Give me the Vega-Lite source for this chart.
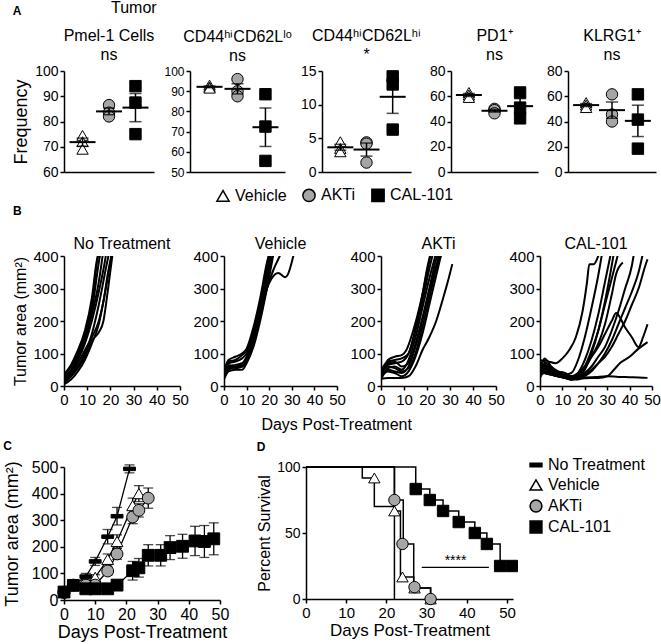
{
"$schema": "https://vega.github.io/schema/vega-lite/v6.json",
"padding": {"left": 3, "top": 0, "right": 0, "bottom": 2},
"spacing": 7,
"config": {
  "font": "Liberation Sans",
  "view": {"stroke": null},
  "axis": {"grid": false, "domainColor": "black", "tickColor": "black", "labelColor": "black", "titleColor": "black", "domainWidth": 1.5, "tickWidth": 1.5, "tickSize": 4, "labelFontSize": 14, "titleFontSize": 17, "titleFontWeight": "normal", "labelPadding": 2, "titlePadding": 4, "labelOverlap": false, "labelFlush": false},
  "title": {"fontSize": 16, "fontWeight": "normal", "color": "black", "subtitleFontSize": 16, "subtitleColor": "black", "subtitlePadding": 0, "offset": 1},
  "legend": {"labelColor": "black", "labelFontSize": 16, "symbolSize": 150, "symbolStrokeWidth": 1.5, "layout": {"bottom": {"anchor": "middle"}}}
},
"resolve": {"scale": {"shape": "independent", "fill": "independent", "stroke": "independent"}, "legend": {"shape": "independent", "fill": "independent", "stroke": "independent"}},
"datasets": {
  "freq": [
    {"p": "p1", "g": "Vehicle", "v": 74.5}, {"p": "p1", "g": "Vehicle", "v": 72}, {"p": "p1", "g": "Vehicle", "v": 69},
    {"p": "p1", "g": "AKTi", "v": 86.5}, {"p": "p1", "g": "AKTi", "v": 83.5}, {"p": "p1", "g": "AKTi", "v": 82},
    {"p": "p1", "g": "CAL-101", "v": 94}, {"p": "p1", "g": "CAL-101", "v": 87.5}, {"p": "p1", "g": "CAL-101", "v": 75},
    {"p": "p2", "g": "Vehicle", "v": 93}, {"p": "p2", "g": "Vehicle", "v": 92}, {"p": "p2", "g": "Vehicle", "v": 91.5},
    {"p": "p2", "g": "AKTi", "v": 96}, {"p": "p2", "g": "AKTi", "v": 90}, {"p": "p2", "g": "AKTi", "v": 87.5},
    {"p": "p2", "g": "CAL-101", "v": 88.5}, {"p": "p2", "g": "CAL-101", "v": 72.5}, {"p": "p2", "g": "CAL-101", "v": 55.5},
    {"p": "p3", "g": "Vehicle", "v": 4.5}, {"p": "p3", "g": "Vehicle", "v": 3.5}, {"p": "p3", "g": "Vehicle", "v": 3.0},
    {"p": "p3", "g": "AKTi", "v": 4.4}, {"p": "p3", "g": "AKTi", "v": 4.2}, {"p": "p3", "g": "AKTi", "v": 1.4},
    {"p": "p3", "g": "CAL-101", "v": 14.2}, {"p": "p3", "g": "CAL-101", "v": 13.0}, {"p": "p3", "g": "CAL-101", "v": 6.3},
    {"p": "p4", "g": "Vehicle", "v": 63}, {"p": "p4", "g": "Vehicle", "v": 61}, {"p": "p4", "g": "Vehicle", "v": 59},
    {"p": "p4", "g": "AKTi", "v": 50}, {"p": "p4", "g": "AKTi", "v": 49}, {"p": "p4", "g": "AKTi", "v": 46.5},
    {"p": "p4", "g": "CAL-101", "v": 63}, {"p": "p4", "g": "CAL-101", "v": 51}, {"p": "p4", "g": "CAL-101", "v": 42.5},
    {"p": "p5", "g": "Vehicle", "v": 55}, {"p": "p5", "g": "Vehicle", "v": 53}, {"p": "p5", "g": "Vehicle", "v": 51},
    {"p": "p5", "g": "AKTi", "v": 61.5}, {"p": "p5", "g": "AKTi", "v": 45.5}, {"p": "p5", "g": "AKTi", "v": 40},
    {"p": "p5", "g": "CAL-101", "v": 61.5}, {"p": "p5", "g": "CAL-101", "v": 41.5}, {"p": "p5", "g": "CAL-101", "v": 18.5}
  ],
  "growth": [
    {"g":"NT","m":1,"d":0,"v":20},{"g":"NT","m":1,"d":3,"v":45},{"g":"NT","m":1,"d":6,"v":85},{"g":"NT","m":1,"d":9,"v":140},{"g":"NT","m":1,"d":12,"v":230},{"g":"NT","m":1,"d":15,"v":380},{"g":"NT","m":1,"d":17,"v":460},
    {"g":"NT","m":2,"d":0,"v":30},{"g":"NT","m":2,"d":3,"v":60},{"g":"NT","m":2,"d":6,"v":100},{"g":"NT","m":2,"d":9,"v":160},{"g":"NT","m":2,"d":12,"v":250},{"g":"NT","m":2,"d":14,"v":370},{"g":"NT","m":2,"d":16,"v":450},
    {"g":"NT","m":3,"d":0,"v":10},{"g":"NT","m":3,"d":3,"v":30},{"g":"NT","m":3,"d":6,"v":60},{"g":"NT","m":3,"d":9,"v":100},{"g":"NT","m":3,"d":12,"v":160},{"g":"NT","m":3,"d":15,"v":250},{"g":"NT","m":3,"d":18,"v":360},{"g":"NT","m":3,"d":20,"v":430},
    {"g":"NT","m":4,"d":0,"v":15},{"g":"NT","m":4,"d":3,"v":35},{"g":"NT","m":4,"d":6,"v":70},{"g":"NT","m":4,"d":9,"v":110},{"g":"NT","m":4,"d":12,"v":150},{"g":"NT","m":4,"d":15,"v":200},{"g":"NT","m":4,"d":17,"v":260},{"g":"NT","m":4,"d":19,"v":350},{"g":"NT","m":4,"d":21,"v":420},
    {"g":"NT","m":5,"d":0,"v":25},{"g":"NT","m":5,"d":3,"v":50},{"g":"NT","m":5,"d":6,"v":90},{"g":"NT","m":5,"d":9,"v":150},{"g":"NT","m":5,"d":12,"v":220},{"g":"NT","m":5,"d":15,"v":320},{"g":"NT","m":5,"d":17,"v":420},
    {"g":"NT","m":6,"d":0,"v":5},{"g":"NT","m":6,"d":3,"v":20},{"g":"NT","m":6,"d":6,"v":45},{"g":"NT","m":6,"d":9,"v":80},{"g":"NT","m":6,"d":12,"v":130},{"g":"NT","m":6,"d":15,"v":190},{"g":"NT","m":6,"d":18,"v":300},{"g":"NT","m":6,"d":21,"v":420},
    {"g":"NT","m":7,"d":0,"v":35},{"g":"NT","m":7,"d":3,"v":65},{"g":"NT","m":7,"d":6,"v":110},{"g":"NT","m":7,"d":9,"v":170},{"g":"NT","m":7,"d":12,"v":270},{"g":"NT","m":7,"d":14,"v":380},{"g":"NT","m":7,"d":16,"v":440},
    {"g":"NT","m":8,"d":0,"v":12},{"g":"NT","m":8,"d":3,"v":30},{"g":"NT","m":8,"d":6,"v":55},{"g":"NT","m":8,"d":9,"v":90},{"g":"NT","m":8,"d":12,"v":140},{"g":"NT","m":8,"d":15,"v":165},{"g":"NT","m":8,"d":17,"v":200},{"g":"NT","m":8,"d":19,"v":300},{"g":"NT","m":8,"d":21,"v":410},
    {"g":"NT","m":9,"d":0,"v":18},{"g":"NT","m":9,"d":3,"v":42},{"g":"NT","m":9,"d":6,"v":80},{"g":"NT","m":9,"d":9,"v":130},{"g":"NT","m":9,"d":12,"v":200},{"g":"NT","m":9,"d":15,"v":290},{"g":"NT","m":9,"d":18,"v":400},{"g":"NT","m":9,"d":19,"v":450},
    {"g":"V","m":1,"d":0,"v":25},{"g":"V","m":1,"d":2,"v":60},{"g":"V","m":1,"d":5,"v":65},{"g":"V","m":1,"d":8,"v":70},{"g":"V","m":1,"d":10,"v":90},{"g":"V","m":1,"d":13,"v":150},{"g":"V","m":1,"d":16,"v":230},{"g":"V","m":1,"d":19,"v":330},{"g":"V","m":1,"d":21,"v":420},
    {"g":"V","m":2,"d":0,"v":40},{"g":"V","m":2,"d":2,"v":75},{"g":"V","m":2,"d":5,"v":80},{"g":"V","m":2,"d":8,"v":95},{"g":"V","m":2,"d":10,"v":110},{"g":"V","m":2,"d":13,"v":170},{"g":"V","m":2,"d":16,"v":260},{"g":"V","m":2,"d":19,"v":370},{"g":"V","m":2,"d":21,"v":440},
    {"g":"V","m":3,"d":0,"v":20},{"g":"V","m":3,"d":2,"v":45},{"g":"V","m":3,"d":5,"v":50},{"g":"V","m":3,"d":8,"v":50},{"g":"V","m":3,"d":10,"v":70},{"g":"V","m":3,"d":13,"v":120},{"g":"V","m":3,"d":16,"v":200},{"g":"V","m":3,"d":19,"v":300},{"g":"V","m":3,"d":22,"v":410},
    {"g":"V","m":4,"d":0,"v":50},{"g":"V","m":4,"d":2,"v":70},{"g":"V","m":4,"d":5,"v":75},{"g":"V","m":4,"d":8,"v":85},{"g":"V","m":4,"d":10,"v":100},{"g":"V","m":4,"d":13,"v":160},{"g":"V","m":4,"d":16,"v":240},{"g":"V","m":4,"d":19,"v":350},{"g":"V","m":4,"d":21,"v":420},
    {"g":"V","m":5,"d":0,"v":30},{"g":"V","m":5,"d":2,"v":55},{"g":"V","m":5,"d":5,"v":60},{"g":"V","m":5,"d":8,"v":65},{"g":"V","m":5,"d":10,"v":85},{"g":"V","m":5,"d":13,"v":140},{"g":"V","m":5,"d":16,"v":220},{"g":"V","m":5,"d":19,"v":320},{"g":"V","m":5,"d":22,"v":420},
    {"g":"V","m":6,"d":0,"v":35},{"g":"V","m":6,"d":2,"v":65},{"g":"V","m":6,"d":5,"v":55},{"g":"V","m":6,"d":8,"v":60},{"g":"V","m":6,"d":10,"v":75},{"g":"V","m":6,"d":13,"v":130},{"g":"V","m":6,"d":16,"v":210},{"g":"V","m":6,"d":19,"v":300},{"g":"V","m":6,"d":21,"v":330},{"g":"V","m":6,"d":24,"v":348},{"g":"V","m":6,"d":27,"v":335},{"g":"V","m":6,"d":28,"v":340},{"g":"V","m":6,"d":31,"v":410},
    {"g":"V","m":7,"d":0,"v":45},{"g":"V","m":7,"d":2,"v":80},{"g":"V","m":7,"d":5,"v":90},{"g":"V","m":7,"d":8,"v":100},{"g":"V","m":7,"d":10,"v":115},{"g":"V","m":7,"d":13,"v":180},{"g":"V","m":7,"d":16,"v":270},{"g":"V","m":7,"d":19,"v":380},{"g":"V","m":7,"d":21,"v":430},
    {"g":"V","m":8,"d":0,"v":28},{"g":"V","m":8,"d":2,"v":50},{"g":"V","m":8,"d":5,"v":58},{"g":"V","m":8,"d":8,"v":60},{"g":"V","m":8,"d":10,"v":80},{"g":"V","m":8,"d":13,"v":135},{"g":"V","m":8,"d":16,"v":215},{"g":"V","m":8,"d":19,"v":300},{"g":"V","m":8,"d":22,"v":360},{"g":"V","m":8,"d":24,"v":390},{"g":"V","m":8,"d":26,"v":420},
    {"g":"A","m":1,"d":0,"v":30},{"g":"A","m":1,"d":3,"v":80},{"g":"A","m":1,"d":6,"v":90},{"g":"A","m":1,"d":9,"v":95},{"g":"A","m":1,"d":11,"v":110},{"g":"A","m":1,"d":14,"v":170},{"g":"A","m":1,"d":17,"v":250},{"g":"A","m":1,"d":20,"v":350},{"g":"A","m":1,"d":22,"v":420},
    {"g":"A","m":2,"d":0,"v":40},{"g":"A","m":2,"d":3,"v":65},{"g":"A","m":2,"d":6,"v":70},{"g":"A","m":2,"d":9,"v":75},{"g":"A","m":2,"d":12,"v":100},{"g":"A","m":2,"d":15,"v":170},{"g":"A","m":2,"d":18,"v":260},{"g":"A","m":2,"d":21,"v":360},{"g":"A","m":2,"d":23,"v":420},
    {"g":"A","m":3,"d":0,"v":25},{"g":"A","m":3,"d":3,"v":55},{"g":"A","m":3,"d":6,"v":60},{"g":"A","m":3,"d":9,"v":50},{"g":"A","m":3,"d":12,"v":80},{"g":"A","m":3,"d":15,"v":150},{"g":"A","m":3,"d":18,"v":240},{"g":"A","m":3,"d":21,"v":330},{"g":"A","m":3,"d":24,"v":410},
    {"g":"A","m":4,"d":0,"v":45},{"g":"A","m":4,"d":3,"v":70},{"g":"A","m":4,"d":6,"v":75},{"g":"A","m":4,"d":9,"v":60},{"g":"A","m":4,"d":12,"v":70},{"g":"A","m":4,"d":15,"v":130},{"g":"A","m":4,"d":18,"v":210},{"g":"A","m":4,"d":21,"v":300},{"g":"A","m":4,"d":24,"v":390},{"g":"A","m":4,"d":26,"v":420},
    {"g":"A","m":5,"d":0,"v":20},{"g":"A","m":5,"d":3,"v":50},{"g":"A","m":5,"d":6,"v":45},{"g":"A","m":5,"d":9,"v":40},{"g":"A","m":5,"d":12,"v":60},{"g":"A","m":5,"d":15,"v":120},{"g":"A","m":5,"d":18,"v":200},{"g":"A","m":5,"d":21,"v":290},{"g":"A","m":5,"d":24,"v":370},{"g":"A","m":5,"d":26,"v":420},
    {"g":"A","m":6,"d":0,"v":35},{"g":"A","m":6,"d":3,"v":60},{"g":"A","m":6,"d":6,"v":55},{"g":"A","m":6,"d":9,"v":45},{"g":"A","m":6,"d":12,"v":55},{"g":"A","m":6,"d":15,"v":100},{"g":"A","m":6,"d":18,"v":180},{"g":"A","m":6,"d":21,"v":270},{"g":"A","m":6,"d":24,"v":360},{"g":"A","m":6,"d":27,"v":420},
    {"g":"A","m":7,"d":0,"v":22},{"g":"A","m":7,"d":3,"v":25},{"g":"A","m":7,"d":6,"v":25},{"g":"A","m":7,"d":9,"v":25},{"g":"A","m":7,"d":12,"v":30},{"g":"A","m":7,"d":15,"v":60},{"g":"A","m":7,"d":18,"v":110},{"g":"A","m":7,"d":21,"v":150},{"g":"A","m":7,"d":24,"v":200},{"g":"A","m":7,"d":27,"v":270},{"g":"A","m":7,"d":29,"v":320},{"g":"A","m":7,"d":31,"v":375},
    {"g":"A","m":8,"d":0,"v":30},{"g":"A","m":8,"d":3,"v":45},{"g":"A","m":8,"d":6,"v":40},{"g":"A","m":8,"d":9,"v":30},{"g":"A","m":8,"d":12,"v":45},{"g":"A","m":8,"d":15,"v":90},{"g":"A","m":8,"d":18,"v":160},{"g":"A","m":8,"d":21,"v":250},{"g":"A","m":8,"d":24,"v":340},{"g":"A","m":8,"d":26,"v":400},{"g":"A","m":8,"d":27,"v":430},
    {"g":"A","m":9,"d":0,"v":50},{"g":"A","m":9,"d":3,"v":75},{"g":"A","m":9,"d":6,"v":80},{"g":"A","m":9,"d":9,"v":85},{"g":"A","m":9,"d":12,"v":100},{"g":"A","m":9,"d":15,"v":180},{"g":"A","m":9,"d":18,"v":280},{"g":"A","m":9,"d":20,"v":360},{"g":"A","m":9,"d":22,"v":420},
    {"g":"C","m":1,"d":0,"v":60},{"g":"C","m":1,"d":2,"v":80},{"g":"C","m":1,"d":4,"v":75},{"g":"C","m":1,"d":7,"v":70},{"g":"C","m":1,"d":10,"v":85},{"g":"C","m":1,"d":13,"v":110},{"g":"C","m":1,"d":16,"v":150},{"g":"C","m":1,"d":19,"v":230},{"g":"C","m":1,"d":21,"v":320},{"g":"C","m":1,"d":22,"v":375},{"g":"C","m":1,"d":24,"v":375},{"g":"C","m":1,"d":26,"v":400},{"g":"C","m":1,"d":27,"v":420},
    {"g":"C","m":2,"d":0,"v":40},{"g":"C","m":2,"d":2,"v":70},{"g":"C","m":2,"d":5,"v":50},{"g":"C","m":2,"d":8,"v":40},{"g":"C","m":2,"d":11,"v":35},{"g":"C","m":2,"d":14,"v":40},{"g":"C","m":2,"d":17,"v":80},{"g":"C","m":2,"d":20,"v":150},{"g":"C","m":2,"d":23,"v":240},{"g":"C","m":2,"d":26,"v":340},{"g":"C","m":2,"d":28,"v":420},
    {"g":"C","m":3,"d":0,"v":50},{"g":"C","m":3,"d":2,"v":60},{"g":"C","m":3,"d":5,"v":45},{"g":"C","m":3,"d":8,"v":35},{"g":"C","m":3,"d":11,"v":30},{"g":"C","m":3,"d":14,"v":25},{"g":"C","m":3,"d":17,"v":40},{"g":"C","m":3,"d":20,"v":80},{"g":"C","m":3,"d":23,"v":140},{"g":"C","m":3,"d":26,"v":220},{"g":"C","m":3,"d":29,"v":320},{"g":"C","m":3,"d":32,"v":420},
    {"g":"C","m":4,"d":0,"v":35},{"g":"C","m":4,"d":2,"v":55},{"g":"C","m":4,"d":5,"v":40},{"g":"C","m":4,"d":8,"v":30},{"g":"C","m":4,"d":11,"v":25},{"g":"C","m":4,"d":14,"v":20},{"g":"C","m":4,"d":17,"v":30},{"g":"C","m":4,"d":20,"v":60},{"g":"C","m":4,"d":23,"v":110},{"g":"C","m":4,"d":26,"v":170},{"g":"C","m":4,"d":29,"v":250},{"g":"C","m":4,"d":32,"v":330},{"g":"C","m":4,"d":35,"v":410},
    {"g":"C","m":5,"d":0,"v":45},{"g":"C","m":5,"d":2,"v":85},{"g":"C","m":5,"d":5,"v":60},{"g":"C","m":5,"d":8,"v":45},{"g":"C","m":5,"d":11,"v":40},{"g":"C","m":5,"d":14,"v":30},{"g":"C","m":5,"d":17,"v":35},{"g":"C","m":5,"d":20,"v":55},{"g":"C","m":5,"d":23,"v":90},{"g":"C","m":5,"d":26,"v":130},{"g":"C","m":5,"d":29,"v":190},{"g":"C","m":5,"d":32,"v":280},{"g":"C","m":5,"d":34,"v":345},{"g":"C","m":5,"d":37,"v":380},
    {"g":"C","m":6,"d":0,"v":55},{"g":"C","m":6,"d":2,"v":65},{"g":"C","m":6,"d":5,"v":50},{"g":"C","m":6,"d":8,"v":40},{"g":"C","m":6,"d":11,"v":35},{"g":"C","m":6,"d":14,"v":30},{"g":"C","m":6,"d":17,"v":40},{"g":"C","m":6,"d":20,"v":60},{"g":"C","m":6,"d":23,"v":90},{"g":"C","m":6,"d":26,"v":120},{"g":"C","m":6,"d":29,"v":160},{"g":"C","m":6,"d":32,"v":200},{"g":"C","m":6,"d":34,"v":225},{"g":"C","m":6,"d":38,"v":180},{"g":"C","m":6,"d":41,"v":150},{"g":"C","m":6,"d":44,"v":120},{"g":"C","m":6,"d":46,"v":150},{"g":"C","m":6,"d":48,"v":190},
    {"g":"C","m":7,"d":0,"v":30},{"g":"C","m":7,"d":2,"v":50},{"g":"C","m":7,"d":5,"v":40},{"g":"C","m":7,"d":8,"v":35},{"g":"C","m":7,"d":11,"v":30},{"g":"C","m":7,"d":14,"v":20},{"g":"C","m":7,"d":17,"v":25},{"g":"C","m":7,"d":20,"v":40},{"g":"C","m":7,"d":23,"v":60},{"g":"C","m":7,"d":26,"v":90},{"g":"C","m":7,"d":29,"v":120},{"g":"C","m":7,"d":32,"v":170},{"g":"C","m":7,"d":35,"v":230},{"g":"C","m":7,"d":38,"v":300},{"g":"C","m":7,"d":41,"v":370},{"g":"C","m":7,"d":42,"v":410},
    {"g":"C","m":8,"d":0,"v":40},{"g":"C","m":8,"d":2,"v":55},{"g":"C","m":8,"d":5,"v":45},{"g":"C","m":8,"d":8,"v":35},{"g":"C","m":8,"d":11,"v":25},{"g":"C","m":8,"d":14,"v":20},{"g":"C","m":8,"d":17,"v":20},{"g":"C","m":8,"d":20,"v":30},{"g":"C","m":8,"d":23,"v":45},{"g":"C","m":8,"d":26,"v":70},{"g":"C","m":8,"d":29,"v":100},{"g":"C","m":8,"d":32,"v":140},{"g":"C","m":8,"d":35,"v":190},{"g":"C","m":8,"d":38,"v":240},{"g":"C","m":8,"d":41,"v":290},{"g":"C","m":8,"d":44,"v":350},{"g":"C","m":8,"d":46,"v":410},
    {"g":"C","m":9,"d":0,"v":25},{"g":"C","m":9,"d":2,"v":45},{"g":"C","m":9,"d":5,"v":35},{"g":"C","m":9,"d":8,"v":30},{"g":"C","m":9,"d":11,"v":25},{"g":"C","m":9,"d":14,"v":20},{"g":"C","m":9,"d":17,"v":25},{"g":"C","m":9,"d":20,"v":35},{"g":"C","m":9,"d":23,"v":50},{"g":"C","m":9,"d":26,"v":70},{"g":"C","m":9,"d":29,"v":90},{"g":"C","m":9,"d":32,"v":120},{"g":"C","m":9,"d":35,"v":160},{"g":"C","m":9,"d":38,"v":200},{"g":"C","m":9,"d":41,"v":250},{"g":"C","m":9,"d":44,"v":300},{"g":"C","m":9,"d":47,"v":370},{"g":"C","m":9,"d":48,"v":390},
    {"g":"C","m":10,"d":0,"v":35},{"g":"C","m":10,"d":2,"v":40},{"g":"C","m":10,"d":5,"v":35},{"g":"C","m":10,"d":8,"v":30},{"g":"C","m":10,"d":11,"v":25},{"g":"C","m":10,"d":14,"v":22},{"g":"C","m":10,"d":17,"v":22},{"g":"C","m":10,"d":20,"v":24},{"g":"C","m":10,"d":23,"v":25},{"g":"C","m":10,"d":26,"v":25},{"g":"C","m":10,"d":30,"v":30},{"g":"C","m":10,"d":33,"v":50},{"g":"C","m":10,"d":36,"v":72},{"g":"C","m":10,"d":40,"v":90},{"g":"C","m":10,"d":44,"v":115},{"g":"C","m":10,"d":48,"v":135},
    {"g":"C","m":11,"d":0,"v":50},{"g":"C","m":11,"d":2,"v":40},{"g":"C","m":11,"d":5,"v":35},{"g":"C","m":11,"d":8,"v":30},{"g":"C","m":11,"d":11,"v":28},{"g":"C","m":11,"d":14,"v":25},{"g":"C","m":11,"d":17,"v":25},{"g":"C","m":11,"d":20,"v":26},{"g":"C","m":11,"d":25,"v":28},{"g":"C","m":11,"d":30,"v":30},{"g":"C","m":11,"d":35,"v":28},{"g":"C","m":11,"d":40,"v":27},{"g":"C","m":11,"d":44,"v":26},{"g":"C","m":11,"d":48,"v":25},
    {"g":"C","m":12,"d":0,"v":80},{"g":"C","m":12,"d":2,"v":75},{"g":"C","m":12,"d":5,"v":55},{"g":"C","m":12,"d":8,"v":45},{"g":"C","m":12,"d":11,"v":40},{"g":"C","m":12,"d":14,"v":30},{"g":"C","m":12,"d":17,"v":30},{"g":"C","m":12,"d":20,"v":50},{"g":"C","m":12,"d":23,"v":100},{"g":"C","m":12,"d":26,"v":170},{"g":"C","m":12,"d":29,"v":260},{"g":"C","m":12,"d":32,"v":370},{"g":"C","m":12,"d":33,"v":410}
  ],
  "means": [
    {"g":"No Treatment","d":0,"m":30,"s":5},{"g":"No Treatment","d":3,"m":55,"s":6},{"g":"No Treatment","d":7,"m":88,"s":12},{"g":"No Treatment","d":10,"m":145,"s":15},{"g":"No Treatment","d":14,"m":238,"s":27},{"g":"No Treatment","d":17,"m":315,"s":33},{"g":"No Treatment","d":21,"m":493,"s":15},
    {"g":"Vehicle","d":0,"m":30,"s":5},{"g":"Vehicle","d":3,"m":55,"s":6},{"g":"Vehicle","d":7,"m":60,"s":8},{"g":"Vehicle","d":10,"m":85,"s":10},{"g":"Vehicle","d":14,"m":153,"s":20},{"g":"Vehicle","d":17,"m":220,"s":25},{"g":"Vehicle","d":22,"m":355,"s":28},{"g":"Vehicle","d":24,"m":400,"s":30},
    {"g":"AKTi","d":0,"m":28,"s":5},{"g":"AKTi","d":3,"m":56,"s":6},{"g":"AKTi","d":7,"m":56,"s":8},{"g":"AKTi","d":10,"m":56,"s":8},{"g":"AKTi","d":14,"m":109,"s":15},{"g":"AKTi","d":17,"m":173,"s":20},{"g":"AKTi","d":22,"m":312,"s":25},{"g":"AKTi","d":24,"m":337,"s":25},{"g":"AKTi","d":27,"m":383,"s":38},
    {"g":"CAL-101","d":0,"m":30,"s":5},{"g":"CAL-101","d":3,"m":55,"s":6},{"g":"CAL-101","d":7,"m":42,"s":8},{"g":"CAL-101","d":10,"m":42,"s":8},{"g":"CAL-101","d":14,"m":42,"s":8},{"g":"CAL-101","d":17,"m":56,"s":10},{"g":"CAL-101","d":22,"m":110,"s":35},{"g":"CAL-101","d":24,"m":121,"s":35},{"g":"CAL-101","d":27,"m":168,"s":40},{"g":"CAL-101","d":31,"m":168,"s":40},{"g":"CAL-101","d":34,"m":197,"s":45},{"g":"CAL-101","d":38,"m":202,"s":45},{"g":"CAL-101","d":42,"m":222,"s":55},{"g":"CAL-101","d":45,"m":220,"s":60},{"g":"CAL-101","d":48,"m":230,"s":60}
  ],
  "kmline": [
    {"g":"No Treatment","d":0,"p":100},{"g":"No Treatment","d":22,"p":0},
    {"g":"Vehicle","d":0,"p":100},{"g":"Vehicle","d":14,"p":91.7},{"g":"Vehicle","d":17,"p":70},{"g":"Vehicle","d":22,"p":66.7},{"g":"Vehicle","d":23.5,"p":16.7},{"g":"Vehicle","d":26.8,"p":8.3},{"g":"Vehicle","d":31,"p":0},
    {"g":"AKTi","d":0,"p":100},{"g":"AKTi","d":22,"p":75},{"g":"AKTi","d":24.2,"p":41.7},{"g":"AKTi","d":26.8,"p":8.3},{"g":"AKTi","d":31,"p":0},
    {"g":"CAL-101","d":0,"p":100},{"g":"CAL-101","d":27.3,"p":83.3},{"g":"CAL-101","d":30.8,"p":75},{"g":"CAL-101","d":34.1,"p":66.7},{"g":"CAL-101","d":38,"p":58.3},{"g":"CAL-101","d":42,"p":50},{"g":"CAL-101","d":45,"p":41.7},{"g":"CAL-101","d":48.3,"p":25},{"g":"CAL-101","d":51.2,"p":25}
  ],
  "kmpts": [
    {"g":"Vehicle","d":17,"p":91.7},{"g":"Vehicle","d":22,"p":66.7},{"g":"Vehicle","d":24,"p":16.7},{"g":"Vehicle","d":27,"p":8.3},{"g":"Vehicle","d":31,"p":0},
    {"g":"AKTi","d":22,"p":75},{"g":"AKTi","d":24,"p":41.7},{"g":"AKTi","d":27,"p":9},{"g":"AKTi","d":31,"p":0},
    {"g":"CAL-101","d":27.3,"p":83.3},{"g":"CAL-101","d":30.8,"p":75},{"g":"CAL-101","d":34.1,"p":66.7},{"g":"CAL-101","d":38,"p":58.3},{"g":"CAL-101","d":42,"p":50},{"g":"CAL-101","d":45,"p":41.7},{"g":"CAL-101","d":48.3,"p":25},{"g":"CAL-101","d":51.2,"p":25}
  ]
},
"vconcat": [
 {
  "spacing": 0,
  "resolve": {"scale": {"shape": "independent", "fill": "independent", "stroke": "independent"}, "legend": {"shape": "independent", "fill": "independent", "stroke": "independent"}},
  "vconcat": [
  {
    "title": {"text": "A", "anchor": "start", "frame": "bounds", "fontWeight": "bold", "fontSize": 12, "dy": 19},
    "vconcat": [
      {
        "title": {"text": "Tumor", "anchor": "start", "frame": "group", "dx": 47, "fontSize": 16, "offset": 12},
        "spacing": 8,
        "hconcat": [
          {
            "width": 90, "height": 101, "data": {"name": "freq"},
            "title": {"text": "Pmel-1 Cells", "subtitle": "ns"},
            "transform": [{"filter": "datum.p === 'p1'"}],
            "encoding": {"x": {"field": "g", "type": "nominal", "scale": {"type": "point", "padding": 0.7, "domain": ["Vehicle", "AKTi", "CAL-101"]}, "axis": {"labels": false, "ticks": false, "title": null}},
              "y": {"field": "v", "type": "quantitative", "scale": {"domain": [60, 100]}, "axis": {"values": [60, 70, 80, 90, 100], "title": "Frequency", "titleFontSize": 18}}},
            "layer": [
              {"mark": {"type": "point", "filled": true, "size": 130, "strokeWidth": 1, "opacity": 1},
               "encoding": {
                 "shape": {"field": "g", "type": "nominal", "scale": {"domain": ["Vehicle", "AKTi", "CAL-101"], "range": ["triangle-up", "circle", "square"]}, "legend": {"orient": "bottom", "direction": "horizontal", "title": null, "columnPadding": 12, "offset": 8}},
                 "fill": {"field": "g", "type": "nominal", "scale": {"domain": ["Vehicle", "AKTi", "CAL-101"], "range": ["white", "#a6a6a6", "black"]}, "legend": {"orient": "bottom", "direction": "horizontal", "title": null, "columnPadding": 12, "offset": 8}},
                 "stroke": {"field": "g", "type": "nominal", "scale": {"domain": ["Vehicle", "AKTi", "CAL-101"], "range": ["black", "black", "black"]}, "legend": {"orient": "bottom", "direction": "horizontal", "title": null, "columnPadding": 12, "offset": 8}}}},
              {"mark": {"type": "errorbar", "extent": "stderr", "ticks": {"size": 12}, "color": "black", "thickness": 1.5}},
              {"mark": {"type": "tick", "color": "black", "size": 26, "thickness": 2},
               "encoding": {"y": {"aggregate": "mean", "field": "v", "type": "quantitative", "scale": {"domain": [60, 100]}, "axis": {"values": [60, 70, 80, 90, 100], "title": "Frequency", "titleFontSize": 18}}}},
              {"data": {"values": [{}]}, "mark": {"type": "rule", "color": "black", "strokeWidth": 1.5},
               "encoding": {"x": {"datum": "Vehicle"}, "x2": {"datum": "CAL-101"}, "y": {"datum": 104}}}
            ]
          },
          {
            "width": 95, "height": 101, "data": {"name": "freq"},
            "title": {"text": "CD44ʰⁱCD62Lˡᵒ", "subtitle": "ns"},
            "transform": [{"filter": "datum.p === 'p2'"}],
            "encoding": {"x": {"field": "g", "type": "nominal", "scale": {"type": "point", "padding": 0.7, "domain": ["Vehicle", "AKTi", "CAL-101"]}, "axis": {"labels": false, "ticks": false, "title": null}},
              "y": {"field": "v", "type": "quantitative", "scale": {"domain": [50, 100]}, "axis": {"values": [50, 60, 70, 80, 90, 100], "title": null, "labelFontSize": 12}}},
            "layer": [
              {"mark": {"type": "point", "filled": true, "size": 130, "strokeWidth": 1, "opacity": 1},
               "encoding": {
                 "shape": {"field": "g", "type": "nominal", "scale": {"domain": ["Vehicle", "AKTi", "CAL-101"], "range": ["triangle-up", "circle", "square"]}, "legend": {"orient": "bottom", "direction": "horizontal", "title": null, "columnPadding": 12, "offset": 8}},
                 "fill": {"field": "g", "type": "nominal", "scale": {"domain": ["Vehicle", "AKTi", "CAL-101"], "range": ["white", "#a6a6a6", "black"]}, "legend": {"orient": "bottom", "direction": "horizontal", "title": null, "columnPadding": 12, "offset": 8}},
                 "stroke": {"field": "g", "type": "nominal", "scale": {"domain": ["Vehicle", "AKTi", "CAL-101"], "range": ["black", "black", "black"]}, "legend": {"orient": "bottom", "direction": "horizontal", "title": null, "columnPadding": 12, "offset": 8}}}},
              {"mark": {"type": "errorbar", "extent": "stderr", "ticks": {"size": 12}, "color": "black", "thickness": 1.5}},
              {"mark": {"type": "tick", "color": "black", "size": 26, "thickness": 2},
               "encoding": {"y": {"aggregate": "mean", "field": "v", "type": "quantitative", "scale": {"domain": [50, 100]}, "axis": {"values": [50, 60, 70, 80, 90, 100], "title": null, "labelFontSize": 12}}}},
              {"data": {"values": [{}]}, "mark": {"type": "rule", "color": "black", "strokeWidth": 1.5},
               "encoding": {"x": {"datum": "Vehicle"}, "x2": {"datum": "CAL-101"}, "y": {"datum": 105}}}
            ]
          },
          {
            "width": 89, "height": 101, "data": {"name": "freq"},
            "title": {"text": "CD44ʰⁱCD62Lʰⁱ", "subtitle": "*"},
            "transform": [{"filter": "datum.p === 'p3'"}],
            "encoding": {"x": {"field": "g", "type": "nominal", "scale": {"type": "point", "padding": 0.7, "domain": ["Vehicle", "AKTi", "CAL-101"]}, "axis": {"labels": false, "ticks": false, "title": null}},
              "y": {"field": "v", "type": "quantitative", "scale": {"domain": [0, 15]}, "axis": {"values": [0, 5, 10, 15], "title": null}}},
            "layer": [
              {"mark": {"type": "point", "filled": true, "size": 130, "strokeWidth": 1, "opacity": 1},
               "encoding": {
                 "shape": {"field": "g", "type": "nominal", "scale": {"domain": ["Vehicle", "AKTi", "CAL-101"], "range": ["triangle-up", "circle", "square"]}, "legend": {"orient": "bottom", "direction": "horizontal", "title": null, "columnPadding": 12, "offset": 8}},
                 "fill": {"field": "g", "type": "nominal", "scale": {"domain": ["Vehicle", "AKTi", "CAL-101"], "range": ["white", "#a6a6a6", "black"]}, "legend": {"orient": "bottom", "direction": "horizontal", "title": null, "columnPadding": 12, "offset": 8}},
                 "stroke": {"field": "g", "type": "nominal", "scale": {"domain": ["Vehicle", "AKTi", "CAL-101"], "range": ["black", "black", "black"]}, "legend": {"orient": "bottom", "direction": "horizontal", "title": null, "columnPadding": 12, "offset": 8}}}},
              {"mark": {"type": "errorbar", "extent": "stderr", "ticks": {"size": 12}, "color": "black", "thickness": 1.5}},
              {"mark": {"type": "tick", "color": "black", "size": 26, "thickness": 2},
               "encoding": {"y": {"aggregate": "mean", "field": "v", "type": "quantitative", "scale": {"domain": [0, 15]}, "axis": {"values": [0, 5, 10, 15], "title": null}}}},
              {"data": {"values": [{}]}, "mark": {"type": "rule", "color": "black", "strokeWidth": 1.5},
               "encoding": {"x": {"datum": "Vehicle"}, "x2": {"datum": "CAL-101"}, "y": {"datum": 16.5}}}
            ]
          },
          {
            "width": 87, "height": 101, "data": {"name": "freq"},
            "title": {"text": "PD1⁺", "subtitle": "ns"},
            "transform": [{"filter": "datum.p === 'p4'"}],
            "encoding": {"x": {"field": "g", "type": "nominal", "scale": {"type": "point", "padding": 0.7, "domain": ["Vehicle", "AKTi", "CAL-101"]}, "axis": {"labels": false, "ticks": false, "title": null}},
              "y": {"field": "v", "type": "quantitative", "scale": {"domain": [0, 80]}, "axis": {"values": [0, 20, 40, 60, 80], "title": null}}},
            "layer": [
              {"mark": {"type": "point", "filled": true, "size": 130, "strokeWidth": 1, "opacity": 1},
               "encoding": {
                 "shape": {"field": "g", "type": "nominal", "scale": {"domain": ["Vehicle", "AKTi", "CAL-101"], "range": ["triangle-up", "circle", "square"]}, "legend": {"orient": "bottom", "direction": "horizontal", "title": null, "columnPadding": 12, "offset": 8}},
                 "fill": {"field": "g", "type": "nominal", "scale": {"domain": ["Vehicle", "AKTi", "CAL-101"], "range": ["white", "#a6a6a6", "black"]}, "legend": {"orient": "bottom", "direction": "horizontal", "title": null, "columnPadding": 12, "offset": 8}},
                 "stroke": {"field": "g", "type": "nominal", "scale": {"domain": ["Vehicle", "AKTi", "CAL-101"], "range": ["black", "black", "black"]}, "legend": {"orient": "bottom", "direction": "horizontal", "title": null, "columnPadding": 12, "offset": 8}}}},
              {"mark": {"type": "errorbar", "extent": "stderr", "ticks": {"size": 12}, "color": "black", "thickness": 1.5}},
              {"mark": {"type": "tick", "color": "black", "size": 26, "thickness": 2},
               "encoding": {"y": {"aggregate": "mean", "field": "v", "type": "quantitative", "scale": {"domain": [0, 80]}, "axis": {"values": [0, 20, 40, 60, 80], "title": null}}}},
              {"data": {"values": [{}]}, "mark": {"type": "rule", "color": "black", "strokeWidth": 1.5},
               "encoding": {"x": {"datum": "Vehicle"}, "x2": {"datum": "CAL-101"}, "y": {"datum": 88}}}
            ]
          },
          {
            "width": 88, "height": 101, "data": {"name": "freq"},
            "title": {"text": "KLRG1⁺", "subtitle": "ns"},
            "transform": [{"filter": "datum.p === 'p5'"}],
            "encoding": {"x": {"field": "g", "type": "nominal", "scale": {"type": "point", "padding": 0.7, "domain": ["Vehicle", "AKTi", "CAL-101"]}, "axis": {"labels": false, "ticks": false, "title": null}},
              "y": {"field": "v", "type": "quantitative", "scale": {"domain": [0, 80]}, "axis": {"values": [0, 20, 40, 60, 80], "title": null}}},
            "layer": [
              {"mark": {"type": "point", "filled": true, "size": 130, "strokeWidth": 1, "opacity": 1},
               "encoding": {
                 "shape": {"field": "g", "type": "nominal", "scale": {"domain": ["Vehicle", "AKTi", "CAL-101"], "range": ["triangle-up", "circle", "square"]}, "legend": {"orient": "bottom", "direction": "horizontal", "title": null, "columnPadding": 12, "offset": 8}},
                 "fill": {"field": "g", "type": "nominal", "scale": {"domain": ["Vehicle", "AKTi", "CAL-101"], "range": ["white", "#a6a6a6", "black"]}, "legend": {"orient": "bottom", "direction": "horizontal", "title": null, "columnPadding": 12, "offset": 8}},
                 "stroke": {"field": "g", "type": "nominal", "scale": {"domain": ["Vehicle", "AKTi", "CAL-101"], "range": ["black", "black", "black"]}, "legend": {"orient": "bottom", "direction": "horizontal", "title": null, "columnPadding": 12, "offset": 8}}}},
              {"mark": {"type": "errorbar", "extent": "stderr", "ticks": {"size": 12}, "color": "black", "thickness": 1.5}},
              {"mark": {"type": "tick", "color": "black", "size": 26, "thickness": 2},
               "encoding": {"y": {"aggregate": "mean", "field": "v", "type": "quantitative", "scale": {"domain": [0, 80]}, "axis": {"values": [0, 20, 40, 60, 80], "title": null}}}},
              {"data": {"values": [{}]}, "mark": {"type": "rule", "color": "black", "strokeWidth": 1.5},
               "encoding": {"x": {"datum": "Vehicle"}, "x2": {"datum": "CAL-101"}, "y": {"datum": 88}}}
            ]
          }
        ]
      }
    ]
  },
  {
    "title": {"text": "B", "anchor": "start", "frame": "bounds", "fontWeight": "bold", "fontSize": 12, "offset": 18},
    "vconcat": [
      {
        "title": {"text": "Days Post-Treatment", "orient": "bottom", "anchor": "middle", "fontSize": 16, "offset": 10},
        "spacing": 3,
        "hconcat": [
          {"width": 116, "height": 130, "title": {"text": "No Treatment", "offset": -3}, "data": {"name": "growth"}, "transform": [{"filter": "datum.g === 'NT'"}],
           "mark": {"type": "line", "color": "black", "strokeWidth": 2, "clip": true, "interpolate": "monotone"},
           "encoding": {"x": {"field": "d", "type": "quantitative", "scale": {"domain": [0, 50], "nice": false}, "axis": {"values": [0, 10, 20, 30, 40, 50], "title": null, "labelFontSize": 15}},
             "y": {"field": "v", "type": "quantitative", "scale": {"domain": [0, 400]}, "axis": {"values": [0, 100, 200, 300, 400], "title": "Tumor area (mm²)", "labelFontSize": 15, "titleFontSize": 16}},
             "detail": {"field": "m", "type": "nominal"}}},
          {"width": 113, "height": 130, "title": {"text": "Vehicle", "offset": -3}, "data": {"name": "growth"}, "transform": [{"filter": "datum.g === 'V'"}],
           "mark": {"type": "line", "color": "black", "strokeWidth": 2, "clip": true, "interpolate": "monotone"},
           "encoding": {"x": {"field": "d", "type": "quantitative", "scale": {"domain": [0, 50], "nice": false}, "axis": {"values": [0, 10, 20, 30, 40, 50], "title": null, "labelFontSize": 15}},
             "y": {"field": "v", "type": "quantitative", "scale": {"domain": [0, 400]}, "axis": {"values": [0, 100, 200, 300, 400], "title": null, "labelFontSize": 15}},
             "detail": {"field": "m", "type": "nominal"}}},
          {"width": 115, "height": 130, "title": {"text": "AKTi", "offset": -3}, "data": {"name": "growth"}, "transform": [{"filter": "datum.g === 'A'"}],
           "mark": {"type": "line", "color": "black", "strokeWidth": 2, "clip": true, "interpolate": "monotone"},
           "encoding": {"x": {"field": "d", "type": "quantitative", "scale": {"domain": [0, 50], "nice": false}, "axis": {"values": [0, 10, 20, 30, 40, 50], "title": null, "labelFontSize": 15}},
             "y": {"field": "v", "type": "quantitative", "scale": {"domain": [0, 400]}, "axis": {"values": [0, 100, 200, 300, 400], "title": null, "labelFontSize": 15}},
             "detail": {"field": "m", "type": "nominal"}}},
          {"width": 112, "height": 130, "title": {"text": "CAL-101", "offset": -3}, "data": {"name": "growth"}, "transform": [{"filter": "datum.g === 'C'"}],
           "mark": {"type": "line", "color": "black", "strokeWidth": 2, "clip": true, "interpolate": "monotone"},
           "encoding": {"x": {"field": "d", "type": "quantitative", "scale": {"domain": [0, 50], "nice": false}, "axis": {"values": [0, 10, 20, 30, 40, 50], "title": null, "labelFontSize": 15}},
             "y": {"field": "v", "type": "quantitative", "scale": {"domain": [0, 400]}, "axis": {"values": [0, 100, 200, 300, 400], "title": null, "labelFontSize": 15}},
             "detail": {"field": "m", "type": "nominal"}}}
        ]
      }
    ]
  }
  ]
 },
  {
    "spacing": 27,
    "resolve": {"scale": {"shape": "independent", "fill": "independent", "stroke": "independent"}, "legend": {"shape": "independent", "fill": "independent", "stroke": "independent"}},
    "hconcat": [
      {
        "width": 156, "height": 133, "data": {"name": "means"},
        "title": {"text": "C", "anchor": "start", "frame": "bounds", "fontWeight": "bold", "fontSize": 12, "offset": 6},
        "encoding": {"x": {"field": "d", "type": "quantitative", "scale": {"domain": [0, 50], "nice": false}, "axis": {"values": [0, 10, 20, 30, 40, 50], "title": "Days Post-Treatment", "labelFontSize": 16, "titleFontSize": 18, "titlePadding": 1}},
          "y": {"field": "m", "type": "quantitative", "scale": {"domain": [0, 500]}, "axis": {"values": [0, 100, 200, 300, 400, 500], "title": "Tumor area (mm²)", "labelFontSize": 16, "titleFontSize": 18, "titlePadding": 10}}},
        "layer": [
          {"mark": {"type": "errorbar", "ticks": {"size": 10}, "color": "black", "thickness": 1.3},
           "encoding": {"yError": {"field": "s"}}},
          {"mark": {"type": "line", "color": "black", "strokeWidth": 1.3},
           "encoding": {"detail": {"field": "g", "type": "nominal"}}},
          {"mark": {"type": "point", "filled": true, "size": 140, "strokeWidth": 1, "opacity": 1, "stroke": "black"},
           "encoding": {
             "shape": {"field": "g", "type": "nominal", "scale": {"domain": ["No Treatment", "Vehicle", "AKTi", "CAL-101"], "range": ["M-1,-0.3H1V0.3H-1Z", "triangle-up", "circle", "square"]}, "legend": null},
             "fill": {"field": "g", "type": "nominal", "scale": {"domain": ["No Treatment", "Vehicle", "AKTi", "CAL-101"], "range": ["black", "white", "#a6a6a6", "black"]}, "legend": null}}}
        ]
      },
      {
        "width": 207, "height": 132,
        "title": {"text": "D", "anchor": "start", "frame": "bounds", "fontWeight": "bold", "fontSize": 12, "offset": 3},
        "layer": [
          {"data": {"name": "kmline"}, "mark": {"type": "line", "interpolate": "step-after", "color": "black", "strokeWidth": 1.5},
           "encoding": {"x": {"field": "d", "type": "quantitative", "scale": {"domain": [0, 51.5], "nice": false}, "axis": {"values": [0, 10, 20, 30, 40, 50], "title": "Days Post-Treatment", "labelFontSize": 15, "titleFontSize": 17, "titlePadding": 2}},
             "y": {"field": "p", "type": "quantitative", "scale": {"domain": [0, 100]}, "axis": {"values": [0, 25, 50, 75, 100], "title": "Percent Survival", "labelFontSize": 14, "titleFontSize": 16}},
             "detail": {"field": "g", "type": "nominal"}}},
          {"data": {"name": "kmpts"}, "mark": {"type": "point", "filled": true, "size": 130, "strokeWidth": 1, "opacity": 1},
           "encoding": {"x": {"field": "d", "type": "quantitative"}, "y": {"field": "p", "type": "quantitative"},
             "shape": {"field": "g", "type": "nominal", "scale": {"domain": ["No Treatment", "Vehicle", "AKTi", "CAL-101"], "range": ["M-1,-0.3H1V0.3H-1Z", "triangle-up", "circle", "square"]}, "legend": {"title": null, "orient": "none", "legendX": 222, "legendY": -10, "symbolSize": 140, "rowPadding": 3}},
             "fill": {"field": "g", "type": "nominal", "scale": {"domain": ["No Treatment", "Vehicle", "AKTi", "CAL-101"], "range": ["black", "white", "#a6a6a6", "black"]}, "legend": {"title": null, "orient": "none", "legendX": 222, "legendY": -10, "symbolSize": 140, "rowPadding": 3}},
             "stroke": {"field": "g", "type": "nominal", "scale": {"domain": ["No Treatment", "Vehicle", "AKTi", "CAL-101"], "range": ["black", "black", "black", "black"]}, "legend": {"title": null, "orient": "none", "legendX": 222, "legendY": -10, "symbolSize": 140, "rowPadding": 3}}}},
          {"data": {"values": [{"label": "****"}]}, "mark": {"type": "rule", "color": "black", "strokeWidth": 1.3},
           "encoding": {"x": {"datum": 28.8}, "x2": {"datum": 45.5}, "y": {"datum": 24}}},
          {"data": {"values": [{"label": "****"}]}, "mark": {"type": "text", "fontSize": 14, "dy": -6, "color": "black"},
           "encoding": {"x": {"datum": 37.2}, "y": {"datum": 24}, "text": {"field": "label"}}}
        ]
      }
    ]
  }
]
}
